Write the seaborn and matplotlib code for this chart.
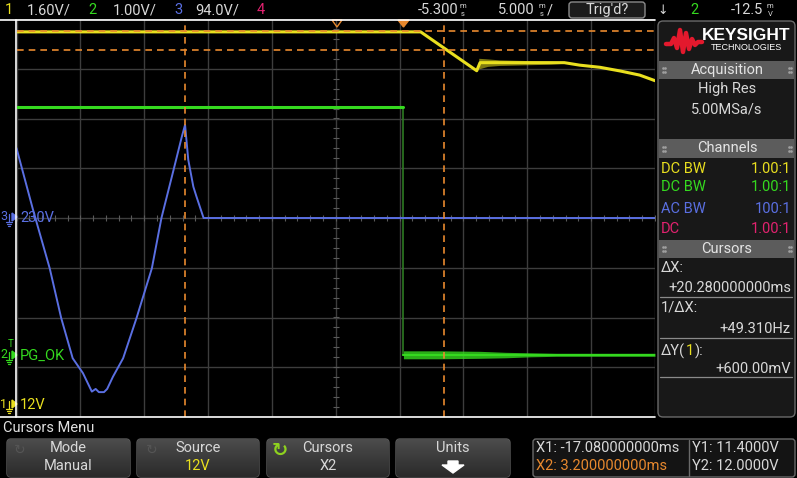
import numpy as np
import pandas as pd
import matplotlib
matplotlib.use('Agg')
import matplotlib.pyplot as plt
import seaborn as sns
from matplotlib.patches import FancyBboxPatch, Rectangle, Polygon

# scope settings
time_per_div = 5.0      # ms/div
delay = -5.3            # ms, screen centre
ch1_scale, ch2_scale, ch3_scale = 1.6, 1.0, 94.0   # V/div
ch1_offset, ch2_offset, ch3_offset = -3.74, -2.77, 0.0   # ground marker, in divisions

# channel 3 - mains input (230V), ms / V
ac_t = [-30.3, -29.0, -27.7, -26.8, -25.9, -25.1, -24.4, -24.1, -23.85, -23.45, -23.2,
        -22.75, -21.95, -20.9, -19.7, -18.95, -18.0, -17.35, -17.1, -16.85, -16.45,
        -16.2, -15.65, 19.7]
ac_v = [132, 15, -95, -189, -265, -293, -328, -323, -329, -329, -323,
        -300, -265, -189, -95, 0, 91, 154, 176, 110, 59,
        40, 0, 0]

# channel 1 - 12V output, ms / V
dc_t = [-30.3, 1.35, 5.74, 6.0, 12.6, 13.8, 15.4, 17.0, 18.5, 19.7]
dc_v = [11.97, 11.97, 10.72, 10.98, 10.98, 10.90, 10.83, 10.71, 10.58, 10.40]
# ripple envelope on the 12V plateau
ripple_t = [5.9, 6.6, 7.5, 8.5, 9.5, 10.5, 11.5, 12.6]
ripple_hi = [11.12, 11.10, 11.07, 11.06, 11.05, 11.04, 11.03, 11.0]
ripple_lo = [10.78, 10.86, 10.89, 10.90, 10.91, 10.92, 10.93, 10.96]

# channel 2 - PG_OK, ms / V
pg_t = [-30.3, -0.05, 0.0, 19.7]
pg_v = [5.0, 5.0, 0.02, 0.02]
pg_noise_t = [0.0, 3.0, 6.0, 8.0, 10.0, 12.0, 15.0, 19.7]
pg_noise_hi = [0.10, 0.10, 0.09, 0.07, 0.06, 0.05, 0.05, 0.05]
pg_noise_lo = [-0.06, -0.06, -0.05, -0.04, -0.02, -0.01, -0.01, -0.01]

# cursors
x1_ms, x2_ms = -17.08, 3.2
y1_v, y2_v = 11.4, 12.0

YELLOW = '#e9df1f'
GREEN = '#35d91f'
BLUE = '#5a6fe2'
PINK = '#e2226f'
ORANGE = '#e8892e'
GRID = '#3d3d3d'
TXT = '#d8d8d8'

sns.set_theme(style='dark')
plt.rcParams['font.family'] = ['Liberation Sans Narrow', 'Roboto', 'DejaVu Sans']
plt.rcParams['axes.unicode_minus'] = False

fig = plt.figure(figsize=(7.97, 4.78), dpi=100, facecolor='black')
W, H = 797, 478
left, right, top, bottom = 16.5, 655, 19, 417
ax = fig.add_axes([left / W, 1 - bottom / H, (right - left) / W, (bottom - top) / H])
ax.set_facecolor('black')

xmin, xmax = delay - 5 * time_per_div, delay + 5 * time_per_div
ax.set_xlim(xmin, xmax)
ax.set_ylim(-4, 4)
ax.set_xticks([delay + k * time_per_div for k in range(-5, 6)])
ax.set_yticks(range(-4, 5))
ax.grid(True, color=GRID, linewidth=1.0)
ax.tick_params(length=0, labelbottom=False, labelleft=False)
for s in ax.spines.values():
    s.set_visible(False)

# small ticks on the centre axes
minor = np.arange(xmin, xmax + 0.01, time_per_div / 5)
ax.scatter(minor, np.zeros_like(minor), marker='|', s=14, color='#5a5a5a', linewidths=0.8, zorder=1)
minor_y = np.arange(-4, 4.01, 0.2)
ax.scatter(np.full_like(minor_y, delay), minor_y, marker='_', s=14, color='#5a5a5a', linewidths=0.8, zorder=1)

# traces, converted to screen divisions
ac = pd.DataFrame({'t': ac_t, 'div': np.array(ac_v) / ch3_scale + ch3_offset})
dc = pd.DataFrame({'t': dc_t, 'div': np.array(dc_v) / ch1_scale + ch1_offset})
sns.lineplot(data=ac, x='t', y='div', ax=ax, color=BLUE, linewidth=1.4, sort=False, estimator=None, zorder=3)

pg_div = np.array(pg_v) / ch2_scale + ch2_offset
ax.plot(pg_t[:2], pg_div[:2], color=GREEN, linewidth=2.2, zorder=3)
ax.plot([pg_t[1], pg_t[1]], [pg_div[1], pg_div[2]], color='#2d7a22', linewidth=1.2, zorder=2)
ax.fill_between(pg_noise_t, np.array(pg_noise_lo) / ch2_scale + ch2_offset,
                np.array(pg_noise_hi) / ch2_scale + ch2_offset, color=GREEN, linewidth=0,
                alpha=0.8, zorder=3)
ax.plot(pg_t[2:], pg_div[2:], color=GREEN, linewidth=1.5, zorder=3)

sns.lineplot(data=dc, x='t', y='div', ax=ax, color=YELLOW, linewidth=2.2, sort=False, estimator=None, zorder=4)
ax.fill_between(ripple_t, np.array(ripple_lo) / ch1_scale + ch1_offset,
                np.array(ripple_hi) / ch1_scale + ch1_offset, color=YELLOW, linewidth=0, alpha=0.55, zorder=4)

# cursors
for xc in (x1_ms, x2_ms):
    ax.axvline(xc, color=ORANGE, linestyle=(0, (4, 3)), linewidth=1.2, zorder=5)
for yc in (y1_v, y2_v):
    ax.axhline(yc / ch1_scale + ch1_offset, color=ORANGE, linestyle=(0, (4, 3)), linewidth=1.2, zorder=5)
ax.set_xlabel('')
ax.set_ylabel('')

# ---- everything around the graticule, in pixel coordinates ----
ov = fig.add_axes([0, 0, 1, 1])
ov.patch.set_alpha(0)
ov.axis('off')
ov.set_xlim(0, W)
ov.set_ylim(H, 0)


def label(x, y, s, color=TXT, size=10.5, ha='left', **kw):
    return ov.text(x, y, s, color=color, fontsize=size, ha=ha, va='center', **kw)


def units(x, y, a, b, color=TXT):
    ov.text(x, y - 4, a, color=color, fontsize=5.5, ha='left', va='center')
    ov.text(x + 1, y + 4, b, color=color, fontsize=5.5, ha='left', va='center')


# frame
ov.plot([0, right], [20, 20], color='white', linewidth=1.2)
ov.plot([0, right], [bottom, bottom], color='white', linewidth=1.2)
ov.plot([16, 16], [20, bottom], color='white', linewidth=1.2)

# header
label(5, 10, '1', YELLOW)
label(27, 10, '1.60V/')
label(88, 10, '2', GREEN)
label(113, 10, '1.00V/')
label(174, 10, '3', BLUE)
label(195, 10, '94.0V/')
label(257, 10, '4', PINK)
label(418, 10, '-5.300')
units(460, 10, 'm', 's')
label(498, 10, '5.000')
units(539, 10, 'm', 's')
label(547, 10, '/')
ov.add_patch(FancyBboxPatch((569, 2), 76, 16, boxstyle='round,pad=0,rounding_size=3',
                            facecolor='#1c1c1c', edgecolor='#8a8a8a', linewidth=1))
label(607, 10, "Trig'd?", ha='center')
label(663, 10, '\u2193', TXT, size=9, ha='center')
label(690, 10, '2', GREEN)
label(731, 10, '-12.5')
units(767, 10, 'm', 'V')

# trigger / delay markers
ov.add_patch(Polygon([[398, 20], [409, 20], [403.5, 27]], closed=True, facecolor=ORANGE, edgecolor=ORANGE))
ov.add_patch(Polygon([[332, 20], [342, 20], [337, 27]], closed=True, facecolor='none', edgecolor=ORANGE, linewidth=1))

# channel markers on the left
for num, txt, col, yy in [('3', '230V', BLUE, 218), ('2', 'PG_OK', GREEN, 356), ('1', '12V', YELLOW, 405)]:
    label(0, yy - 1, num, col, size=9)
    ov.add_patch(Polygon([[12, yy - 5], [12, yy + 3], [17, yy - 1]], closed=True, facecolor=col, edgecolor=col))
    ov.plot([9, 9], [yy - 4, yy + 4], color=col, linewidth=0.9)
    ov.plot([6, 12], [yy + 4, yy + 4], color=col, linewidth=0.9)
    ov.plot([7, 11], [yy + 6, yy + 6], color=col, linewidth=0.9)
    ov.plot([8, 10], [yy + 8, yy + 8], color=col, linewidth=0.9)
    label(20, yy, txt, col, size=10.5)
label(11, 344, 'T', GREEN, size=7, ha='center')

# right side panel
ov.add_patch(FancyBboxPatch((658, 21), 137, 396, boxstyle='round,pad=0,rounding_size=5',
                            facecolor='#181818', edgecolor='#6a6a6a', linewidth=1))
logo_x = [666, 671, 674, 677, 680, 683, 686, 689, 692, 695, 698, 702]
logo_y = [44, 44, 38, 48, 30, 52, 33, 49, 39, 45, 42, 42]
ov.plot(logo_x, logo_y, color='#e3192d', linewidth=3.2, solid_joinstyle='round')
ov.text(746, 35, 'KEYSIGHT', color='white', fontsize=12.5, fontweight='bold', ha='center', va='center',
        family=['Liberation Sans', 'DejaVu Sans'])
ov.text(746, 47, 'TECHNOLOGIES', color='white', fontsize=6.5, ha='center', va='center',
        family=['Liberation Sans', 'DejaVu Sans'])


def header(y0, y1, s):
    ov.add_patch(Rectangle((659, y0), 135, y1 - y0, facecolor='#5c5c5c', edgecolor='none'))
    label(727, (y0 + y1) / 2, s, '#e4e4e4', ha='center')
    yc = (y0 + y1) / 2
    for gx in (663, 789):
        ov.scatter([gx, gx + 2.5, gx, gx + 2.5], [yc - 2, yc - 2, yc + 2, yc + 2], s=0.8, color='#a0a0a0')


header(61, 79, 'Acquisition')
label(727, 89, 'High Res', ha='center')
label(727, 109, '5.00MSa/s', ha='center')
header(139, 158, 'Channels')
for yy, a, b, col in [(169, 'DC BW', '1.00:1', YELLOW), (187, 'DC BW', '1.00:1', GREEN),
                      (209, 'AC BW', '100:1', BLUE), (229, 'DC', '1.00:1', PINK)]:
    label(661, yy, a, col)
    label(791, yy, b, col, ha='right')
header(240, 258, 'Cursors')
label(661, 268, '\u0394X:')
label(791, 288, '+20.280000000ms', ha='right')
ov.plot([660, 792], [297, 297], color='#8a8a8a', linewidth=0.9)
label(661, 308, '1/\u0394X:')
label(791, 329, '+49.310Hz', ha='right')
ov.plot([660, 792], [338, 338], color='#8a8a8a', linewidth=0.9)

# ΔY(1): with the channel number in yellow, pieces placed one after the other
renderer = fig.canvas.get_renderer()
xpos = 661
inv = ov.transData.inverted()
for piece, col in [('\u0394Y(', TXT), ('1', YELLOW), ('):', TXT)]:
    t = label(xpos, 351, piece, col)
    bb = t.get_window_extent(renderer)
    xpos = inv.transform((bb.x1, bb.y0))[0] + 0.5
label(791, 369, '+600.00mV', ha='right')
ov.plot([660, 792], [377, 377], color='#8a8a8a', linewidth=0.9)

# softkeys
label(3, 428, 'Cursors Menu', '#e0e0e0')
grad = np.linspace(0, 1, 40).reshape(-1, 1)
keys = [(7, 130, 'Mode', 'Manual', TXT), (137, 259, 'Source', '12V', YELLOW),
        (267, 389, 'Cursors', 'X2', TXT), (396, 510, 'Units', '', TXT)]
for x0, x1, t1, t2, c2 in keys:
    box = FancyBboxPatch((x0, 439), x1 - x0, 38, boxstyle='round,pad=0,rounding_size=4',
                         facecolor='#333333', edgecolor='#5a5a5a', linewidth=1)
    ov.add_patch(box)
    im = ov.imshow(grad, cmap=sns.blend_palette(['#4c4c4c', '#2a2a2a'], as_cmap=True),
                   extent=(x0, x1, 477, 439), aspect='auto', zorder=box.get_zorder())
    im.set_clip_path(box)
    cx = (x0 + x1) / 2
    label(cx, 448, t1, TXT, ha='center')
    label(cx, 466, t2, c2, ha='center')
ov.text(280, 450, '\u21bb', color='#8ed11f', fontsize=14, fontweight='bold', ha='center', va='center',
        family=['DejaVu Sans'])
for kx in (20, 152):
    ov.text(kx, 450, '\u21bb', color='#555555', fontsize=10, ha='center', va='center', family=['DejaVu Sans'])
ov.add_patch(Polygon([[448, 461], [458, 461], [458, 465], [464, 465], [453, 473], [442, 465], [448, 465]],
                     closed=True, facecolor='white', edgecolor='white'))

# cursor readout box
ov.add_patch(FancyBboxPatch((533, 439), 262, 38, boxstyle='round,pad=0,rounding_size=3',
                            facecolor='#141414', edgecolor='#6a6a6a', linewidth=1))
ov.plot([689, 689], [440, 476], color='#6a6a6a', linewidth=1)
label(536, 448, 'X1: -17.080000000ms')
label(536, 466, 'X2: 3.200000000ms', ORANGE)
label(692, 448, 'Y1: 11.4000V')
label(692, 466, 'Y2: 12.0000V')

ov.set_xlim(0, W)
ov.set_ylim(H, 0)

fig.savefig('out.png', dpi=100, facecolor='black')
